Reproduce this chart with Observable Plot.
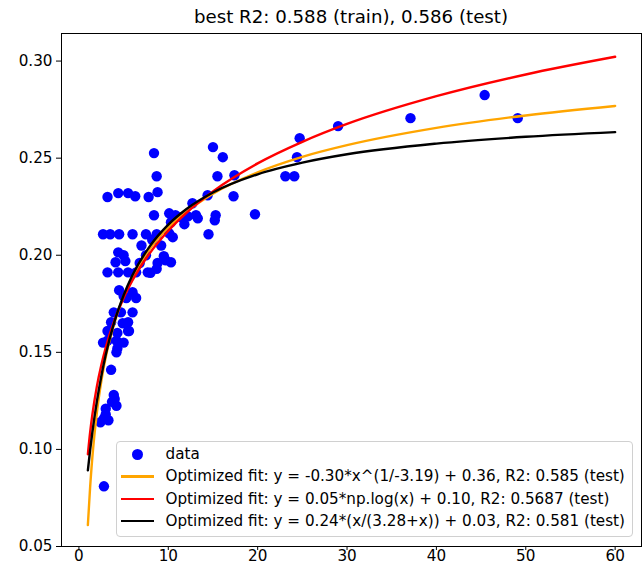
<!DOCTYPE html>
<html>
<head>
<meta charset="utf-8">
<script src="https://cdn.jsdelivr.net/npm/d3@7"></script>
<script src="https://cdn.jsdelivr.net/npm/@observablehq/plot@0.6"></script>
<style>
  html, body { margin: 0; padding: 0; background: #fff; }
  #wrap { position: relative; width: 644px; height: 567px; font-family: "DejaVu Sans", sans-serif; }
  #title { position: absolute; left: 61px; width: 580px; top: 6px; line-height: 1.2; text-align: center; font-size: 18.2px; color: #000; }
  #legend { position: absolute; left: 116px; top: 441px; width: 517px; height: 96px; box-sizing: border-box;
            border: 1px solid #d0d0d0; border-radius: 4px; background: rgba(255,255,255,0.8); font-size: 15.2px; }
  .row { position: absolute; left: 0; height: 20px; display: flex; align-items: center; white-space: nowrap; }
  .h { width: 33px; margin-left: 3.5px; margin-right: 12px; position: relative; height: 20px; }
  .ln { position: absolute; left: 0; right: 0; top: 9px; height: 2.4px; }
  .dot { position: absolute; left: 11px; top: 4.5px; width: 11px; height: 11px; border-radius: 50%; background: #0000ff; }
  svg text { font-size: 15.2px; }
</style>
</head>
<body>
<div id="wrap"></div>
<script>
// scatter data
const dataX = [2.8,2.4,2.8,3.3,3.0,3.0,3.7,4.0,4.2,3.9,3.6,4.2,4.3,2.7,3.2,4.2,5.0,5.6,3.2,4.3,5.5,3.6,4.9,5.5,3.9,4.7,6.0,4.5,5.0,6.0,6.4,5.3,3.2,4.4,5.5,6.4,7.7,8.0,8.7,4.1,4.4,5.0,5.2,8.8,9.7,10.3,9.2,9.5,2.7,3.5,4.5,6.0,7.5,8.7,8.4,3.2,4.4,5.5,6.3,7.8,8.8,8.7,8.4,10.1,10.8,11.4,10.3,10.1,10.5,12.7,13.1,13.3,14.4,14.5,15.2,15.3,15.5,15.0,16.1,17.3,17.4,19.7,23.1,24.1,24.4,24.7,29.0,37.1,45.4,49.1,7.0,7.5,6.8,8.2,11.8,12.2];
const dataY = [0.081,0.114,0.116,0.115,0.118,0.121,0.1245,0.126,0.1225,0.128,0.141,0.150,0.152,0.155,0.156,0.156,0.155,0.161,0.161,0.160,0.161,0.1655,0.165,0.1655,0.1706,0.1706,0.1706,0.182,0.179,0.181,0.178,0.178,0.1912,0.1912,0.1912,0.1912,0.1912,0.191,0.193,0.1964,0.2015,0.200,0.197,0.196,0.1974,0.1964,0.205,0.1995,0.2108,0.2108,0.2108,0.2108,0.2108,0.2108,0.2206,0.230,0.232,0.232,0.2304,0.230,0.2325,0.2407,0.2526,0.2216,0.2206,0.2196,0.217,0.2113,0.2093,0.2268,0.2206,0.219,0.2309,0.2108,0.218,0.2206,0.2407,0.2557,0.2505,0.2304,0.2412,0.2211,0.2407,0.2407,0.2505,0.2603,0.2665,0.2706,0.2825,0.2706,0.205,0.200,0.196,0.208,0.216,0.220];

// fitted curves
const orangeX = [1,1.1,1.25,1.5,2,2.5,3,4,5,6,8,10,12,15,20,25,30,40,50,60];
const orangeY = [0.061,0.0688,0.0803,0.0958,0.1186,0.1349,0.1474,0.1657,0.1789,0.1889,0.2037,0.2143,0.2223,0.2317,0.2427,0.2507,0.2567,0.2656,0.2720,0.2769];
const fitX = [1,1.25,1.5,2,2.5,3,4,5,6,8,10,12,15,20,25,30,40,50,60];
const redY = [0.0975,0.1087,0.1178,0.1322,0.1433,0.1524,0.1668,0.1780,0.1871,0.2015,0.2126,0.2217,0.2329,0.2473,0.2584,0.2676,0.2819,0.2931,0.3022];
const blackY = [0.0892,0.0995,0.1087,0.1245,0.1376,0.1487,0.1662,0.1794,0.1898,0.2051,0.2158,0.2237,0.2323,0.2417,0.2477,0.2520,0.2575,0.2610,0.2634];

const xTicks = [0,10,20,30,40,50,60];
const yTicks = [0.05,0.10,0.15,0.20,0.25,0.30];
const titleText = "best R2: 0.588 (train), 0.586 (test)";
const legendLabels = [
  "data",
  "Optimized fit: y = -0.30*x^(1/-3.19) + 0.36, R2: 0.585 (test)",
  "Optimized fit: y = 0.05*np.log(x) + 0.10, R2: 0.5687 (test)",
  "Optimized fit: y = 0.24*(x/(3.28+x)) + 0.03, R2: 0.581 (test)"
];
const lineColors = ["orange", "red", "black"];

const pts = dataX.map((x, i) => ({x, y: dataY[i]}));
const orange = orangeX.map((x, i) => ({x, y: orangeY[i]}));
const red = fitX.map((x, i) => ({x, y: redY[i]}));
const black = fitX.map((x, i) => ({x, y: blackY[i]}));

const chart = Plot.plot({
  width: 644,
  height: 567,
  marginTop: 33,
  marginBottom: 21,
  marginLeft: 61,
  marginRight: 3,
  style: {fontFamily: "DejaVu Sans, sans-serif", fontSize: "15.2px", color: "#000", background: "#fff"},
  x: {domain: [-1.95, 62.95], ticks: xTicks, tickSize: 4, tickPadding: 0, label: null},
  y: {domain: [0.050, 0.3142], ticks: yTicks, tickFormat: d3.format(".2f"), tickSize: 5, tickPadding: 4, label: null},
  marks: [
    Plot.dot(pts, {x: "x", y: "y", r: 5.2, fill: "#0000ff", stroke: "none"}),
    Plot.line(orange, {x: "x", y: "y", stroke: lineColors[0], strokeWidth: 2.4, curve: "monotone-x"}),
    Plot.line(red, {x: "x", y: "y", stroke: lineColors[1], strokeWidth: 2.4, curve: "monotone-x"}),
    Plot.line(black, {x: "x", y: "y", stroke: lineColors[2], strokeWidth: 2.4, curve: "monotone-x"}),
    Plot.frame({stroke: "#000", strokeWidth: 1})
  ]
});

const wrap = document.getElementById("wrap");
wrap.appendChild(chart);

const t = document.createElement("div");
t.id = "title";
t.textContent = titleText;
wrap.appendChild(t);

const lg = document.createElement("div");
lg.id = "legend";
legendLabels.forEach((lab, i) => {
  const r = document.createElement("div");
  r.className = "row";
  r.style.top = (2 + i * 22.3) + "px";
  const h = document.createElement("div");
  h.className = "h";
  if (i === 0) {
    const d = document.createElement("div"); d.className = "dot"; h.appendChild(d);
  } else {
    const l = document.createElement("div"); l.className = "ln"; l.style.background = lineColors[i - 1]; h.appendChild(l);
  }
  r.appendChild(h);
  const s = document.createElement("span");
  s.textContent = lab;
  r.appendChild(s);
  lg.appendChild(r);
});
wrap.appendChild(lg);
</script>
</body>
</html>
